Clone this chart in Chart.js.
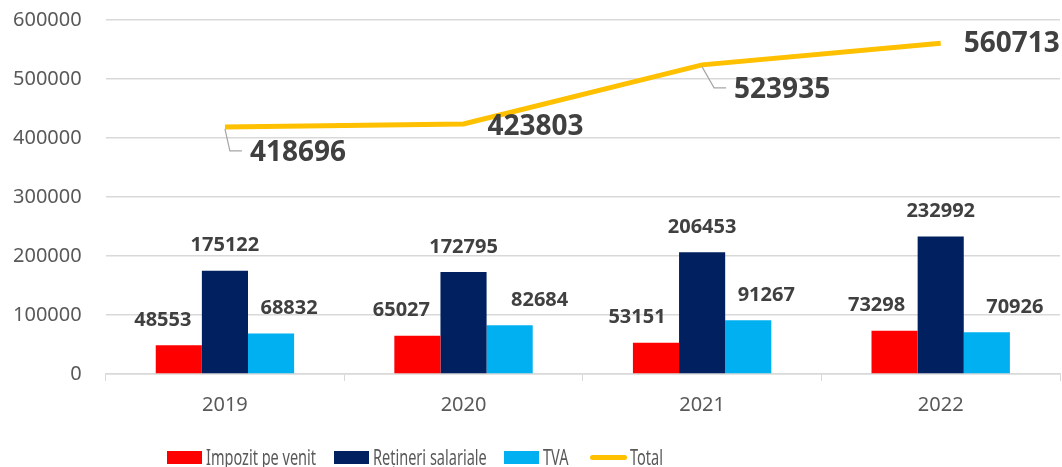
<!DOCTYPE html>
<html>
<head>
    <meta charset="UTF-8">
    <title>Impozite</title>
    <script src="https://cdn.jsdelivr.net/npm/chart.js@4.4.0/dist/chart.umd.min.js"></script>
    <style>
        html, body { margin: 0; padding: 0; background: #fff; overflow: hidden; }
        .wrap { position: relative; width: 1062px; height: 467px; }
        .legend { position: absolute; left: 0; top: 0; width: 1062px; height: 467px; pointer-events: none;
                  font-family: "Noto Sans", sans-serif; font-size: 22px; color: #595959; }
        .legend .box { position: absolute; top: 451px; width: 35px; height: 13px; }
        .legend .ln { position: absolute; top: 455px; width: 37px; height: 5px; border-radius: 3px; background: #ffc000; }
        .legend .txt { position: absolute; top: 442px; line-height: 29px; white-space: nowrap;
                       transform: scaleX(0.66); transform-origin: left center; }
    </style>
</head>
<body>

<div class="wrap">
    <canvas id="taxChart" width="1062" height="467"></canvas>
    <div class="legend" id="legend"></div>
</div>

<script>
    // date
    var years = ['2019', '2020', '2021', '2022'];
    var impozitVenit = [48553, 65027, 53151, 73298];
    var retineriSalariale = [175122, 172795, 206453, 232992];
    var tva = [68832, 82684, 91267, 70926];
    var total = [418696, 423803, 523935, 560713];
    var yTicks = [0, 100000, 200000, 300000, 400000, 500000, 600000];

    // unde stau etichetele (deplasare fata de bara / punct)
    var barLabelDx = [
        [-16, -16, -19, -18],
        [0, 0, 0, 0],
        [18, 30, 18, 28]
    ];
    var lineLabelDx = [73, 72, 80, 71];
    var lineLabelDy = [26, 3, 25, 1];

    var labelPlugin = {
        id: 'valueLabels',
        afterDatasetsDraw: function (chart) {
            var ctx = chart.ctx;
            ctx.save();
            ctx.textAlign = 'center';
            ctx.textBaseline = 'middle';
            ctx.fillStyle = '#404040';

            // etichete bare
            ctx.font = 'bold 20px "Noto Sans"';
            for (var d = 0; d < 3; d++) {
                var meta = chart.getDatasetMeta(d);
                meta.data.forEach(function (bar, i) {
                    var v = chart.data.datasets[d].data[i];
                    ctx.fillText(String(v), bar.x + barLabelDx[d][i], bar.y - 25);
                });
            }

            // etichete linie
            ctx.font = 'bold 28px "Noto Sans"';
            var lineMeta = chart.getDatasetMeta(3);
            lineMeta.data.forEach(function (pt, i) {
                var v = chart.data.datasets[3].data[i];
                var lx = pt.x + lineLabelDx[i];
                var ly = pt.y + lineLabelDy[i];
                var w = ctx.measureText(String(v)).width;
                if (lineLabelDy[i] > 10) {
                    ctx.strokeStyle = '#a6a6a6';
                    ctx.lineWidth = 1.2;
                    ctx.beginPath();
                    ctx.moveTo(pt.x, pt.y + 2);
                    ctx.lineTo(lx - w / 2 - 20, ly - 2);
                    ctx.lineTo(lx - w / 2 - 8, ly - 2);
                    ctx.stroke();
                }
                ctx.fillText(String(v), lx, ly);
            });
            ctx.restore();
        }
    };

    var ctx = document.getElementById('taxChart').getContext('2d');
    var taxChart = new Chart(ctx, {
        type: 'bar',
        data: {
            labels: years,
            datasets: [
                {
                    label: 'Impozit pe venit',
                    data: impozitVenit,
                    backgroundColor: '#ff0000',
                    categoryPercentage: 0.58,
                    barPercentage: 1.0,
                    order: 2
                },
                {
                    label: 'Rețineri salariale',
                    data: retineriSalariale,
                    backgroundColor: '#002060',
                    categoryPercentage: 0.58,
                    barPercentage: 1.0,
                    order: 2
                },
                {
                    label: 'TVA',
                    data: tva,
                    backgroundColor: '#00b0f0',
                    categoryPercentage: 0.58,
                    barPercentage: 1.0,
                    order: 2
                },
                {
                    type: 'line',
                    label: 'Total',
                    data: total,
                    borderColor: '#ffc000',
                    backgroundColor: '#ffc000',
                    borderWidth: 5,
                    pointRadius: 0,
                    tension: 0,
                    order: 1
                }
            ]
        },
        options: {
            responsive: false,
            animation: false,
            devicePixelRatio: 1,
            layout: { padding: { left: -11, right: 2, top: 20, bottom: 38 } },
            plugins: {
                tooltip: { enabled: false },
                legend: { display: false }
            },
            scales: {
                x: {
                    grid: {
                        offset: true,
                        drawOnChartArea: false,
                        drawTicks: true,
                        tickLength: 7,
                        color: '#d9d9d9'
                    },
                    border: { color: '#d9d9d9', width: 1.5 },
                    ticks: {
                        font: { family: '"Noto Sans"', size: 20 },
                        color: '#595959',
                        padding: 12
                    }
                },
                y: {
                    min: 0,
                    max: 600000,
                    afterBuildTicks: function (axis) {
                        axis.ticks = yTicks.map(function (v) { return { value: v }; });
                    },
                    afterFit: function (axis) {
                        // fara spatiu suplimentar sus/jos pentru etichete
                        axis.paddingTop = 0;
                        axis.paddingBottom = 0;
                    },
                    grid: { color: '#d9d9d9', lineWidth: 1.5, drawTicks: false },
                    border: { display: false },
                    ticks: {
                        font: { family: '"Noto Sans"', size: 20 },
                        color: '#595959',
                        padding: 24,
                        callback: function (v) { return String(v); }
                    }
                }
            }
        },
        plugins: [labelPlugin]
    });

    // legenda separata, ca in original
    var legendLeft = [167, 334, 504, 590];
    var legendHtml = '';
    taxChart.data.datasets.forEach(function (ds, i) {
        var x = legendLeft[i];
        if (ds.type === 'line') {
            legendHtml += '<div class="ln" style="left:' + x + 'px"></div>';
            legendHtml += '<span class="txt" style="left:' + (x + 40) + 'px">' + ds.label + '</span>';
        } else {
            legendHtml += '<div class="box" style="left:' + x + 'px;background:' + ds.backgroundColor + '"></div>';
            legendHtml += '<span class="txt" style="left:' + (x + 39) + 'px">' + ds.label + '</span>';
        }
    });
    document.getElementById('legend').innerHTML = legendHtml;
</script>

</body>
</html>
